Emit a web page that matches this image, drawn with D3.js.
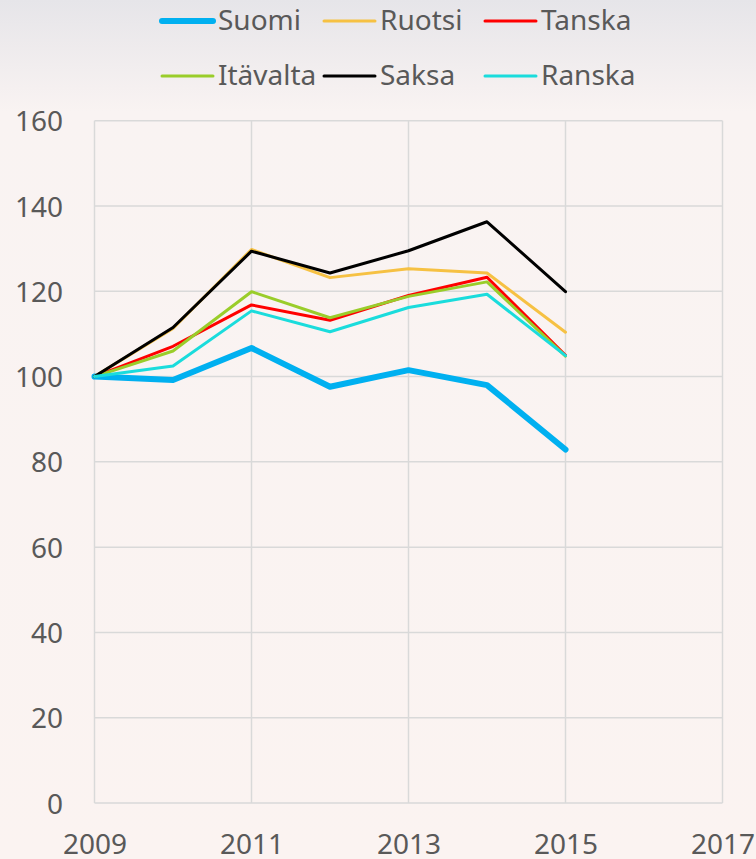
<!DOCTYPE html>
<html><head><meta charset="utf-8">
<script src="https://cdn.jsdelivr.net/npm/d3@7"></script>
<style>html,body{margin:0;padding:0;}body{width:756px;height:859px;overflow:hidden;}</style>
</head><body>
<script>
const years = [2009, 2010, 2011, 2012, 2013, 2014, 2015];
const suomi    = [100, 99.2, 106.7, 97.6, 101.5, 98.0, 82.9];
const ruotsi   = [100, 111.3, 129.8, 123.2, 125.3, 124.3, 110.4];
const tanska   = [100, 107.1, 116.8, 113.2, 119.0, 123.3, 105.0];
const itavalta = [100, 106.0, 119.9, 113.8, 118.8, 122.2, 104.8];
const saksa    = [100, 111.5, 129.4, 124.3, 129.5, 136.3, 119.9];
const ranska   = [100, 102.5, 115.4, 110.5, 116.2, 119.3, 104.9];
const seriesNames = ["Suomi", "Ruotsi", "Tanska", "Itävalta", "Saksa", "Ranska"];
const seriesValues = [suomi, ruotsi, tanska, itavalta, saksa, ranska];
const seriesColors = ["#00b0f0", "#f6c143", "#ff0000", "#9acd2a", "#000000", "#1adcdc"];
const seriesWidths = [6, 3, 3, 3, 3, 3];
const xTicks = [2009, 2011, 2013, 2015, 2017];
const yTicks = [0, 20, 40, 60, 80, 100, 120, 140, 160];

const W = 756, H = 859;
const svg = d3.select("body").append("svg").attr("width", W).attr("height", H);
const defs = svg.append("defs");
const grad = defs.append("linearGradient").attr("id", "bg").attr("x1", 0).attr("y1", 0).attr("x2", 0).attr("y2", 1);
grad.append("stop").attr("offset", "0").attr("stop-color", "#e6e5e9");
grad.append("stop").attr("offset", "0.13").attr("stop-color", "#f9f3f2");
grad.append("stop").attr("offset", "1").attr("stop-color", "#fbf3f1");
svg.append("rect").attr("width", W).attr("height", H).attr("fill", "url(#bg)");

const x = d3.scaleLinear().domain([2009, 2017]).range([94.5, 722.5]);
const y = d3.scaleLinear().domain([0, 160]).range([803, 120.7]);
const font = "'Noto Sans', sans-serif";
const txt = "#595959";

// gridlines
const g = svg.append("g");
g.selectAll("line.h").data(yTicks).join("line")
  .attr("x1", x(2009)).attr("x2", x(2017))
  .attr("y1", d => y(d)).attr("y2", d => y(d))
  .attr("stroke", "#d9d9d9").attr("stroke-width", 1.5);
g.selectAll("line.v").data(xTicks).join("line")
  .attr("x1", d => x(d)).attr("x2", d => x(d))
  .attr("y1", y(0)).attr("y2", y(160))
  .attr("stroke", "#d9d9d9").attr("stroke-width", 1.5);

// axes
const yAxis = d3.axisLeft(y).tickValues(yTicks).tickSize(0).tickPadding(0);
const ya = svg.append("g").attr("transform", `translate(${63},0)`).call(yAxis);
ya.select(".domain").remove();
ya.selectAll("text").attr("font-family", font).attr("font-size", 28).attr("fill", txt).attr("dy", "0.36em");

const xAxis = d3.axisBottom(x).tickValues(xTicks).tickFormat(d3.format("d")).tickSize(0).tickPadding(0);
const xa = svg.append("g").attr("transform", `translate(0,${834})`).call(xAxis);
xa.select(".domain").remove();
xa.selectAll("text").attr("font-family", font).attr("font-size", 28).attr("fill", txt).attr("dy", "0.72em");

// lines
const line = d3.line().x((d, i) => x(years[i])).y(d => y(d));
seriesValues.forEach((vals, k) => {
  svg.append("path").datum(vals).attr("d", line)
    .attr("fill", "none").attr("stroke", seriesColors[k])
    .attr("stroke-width", seriesWidths[k]).attr("stroke-linejoin", "round")
    .attr("stroke-linecap", "round");
});

// legend
const legendPos = [[160, 20], [322, 20], [483, 20], [160, 75], [322, 75], [483, 75]];
const lg = svg.append("g");
seriesNames.forEach((name, k) => {
  const [lx, ly] = legendPos[k];
  lg.append("line").attr("x1", lx + 2).attr("x2", lx + 53).attr("y1", ly + 1).attr("y2", ly + 1)
    .attr("stroke", seriesColors[k]).attr("stroke-width", seriesWidths[k]).attr("stroke-linecap", "round");
  lg.append("text").attr("x", lx + 58).attr("y", ly).attr("dy", "0.36em")
    .attr("font-family", font).attr("font-size", 28).attr("fill", txt).text(name);
});
</script>
</body></html>
